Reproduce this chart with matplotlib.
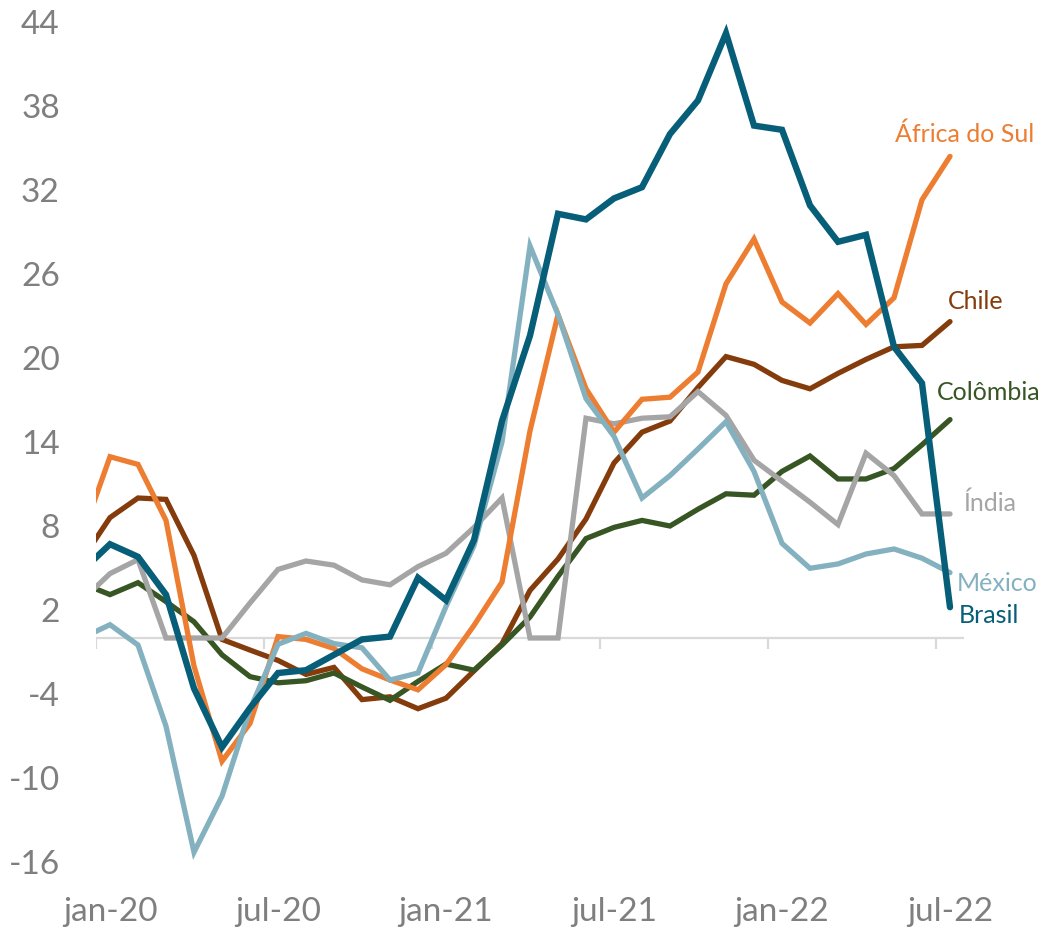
import numpy as np
import pandas as pd
import matplotlib
matplotlib.use("Agg")
import matplotlib.pyplot as plt

plt.rcParams['font.family'] = ['Lato', 'DejaVu Sans']

# monthly series, dez-19 .. jul-22 (the first month sits just left of the axis and gets clipped)
months = pd.period_range('2019-12', '2022-07', freq='M')

brasil = [4.8, 6.7, 5.8, 3.1, -3.6, -7.8, -5.0, -2.5, -2.3, -1.2, -0.1, 0.1, 4.3,
          2.7, 7.0, 15.5, 21.6, 30.3, 29.9, 31.4, 32.2, 36.0, 38.4, 43.2, 36.6,
          36.3, 30.9, 28.3, 28.8, 20.8, 18.2, 2.2]
africa_sul = [7.3, 12.95, 12.4, 8.4, -2.0, -8.8, -6.1, 0.1, -0.1, -0.75, -2.2, -3.0, -3.7,
              -1.9, 0.9, 4.0, 14.8, 23.1, 17.8, 14.7, 17.05, 17.2, 19.0, 25.3, 28.5,
              24.0, 22.5, 24.6, 22.4, 24.3, 31.3, 34.4]
chile = [5.6, 8.6, 10.0, 9.9, 5.9, -0.1, -0.86, -1.6, -2.6, -2.1, -4.4, -4.2, -5.05,
         -4.3, -2.35, -0.4, 3.4, 5.64, 8.5, 12.5, 14.7, 15.5, 17.9, 20.1, 19.55,
         18.4, 17.8, 18.9, 19.9, 20.8, 20.9, 22.6]
colombia = [3.9, 3.1, 3.95, 2.6, 1.16, -1.2, -2.76, -3.2, -3.05, -2.5, -3.5, -4.45, -3.1,
            -1.86, -2.3, -0.5, 1.5, 4.4, 7.1, 7.9, 8.4, 8.0, 9.2, 10.3, 10.2,
            11.9, 13.0, 11.36, 11.36, 12.1, 13.8, 15.6]
india = [2.7, 4.6, 5.6, 0.0, 0.0, 0.0, 2.5, 4.9, 5.5, 5.2, 4.15, 3.8, 5.1,
         6.05, 7.9, 10.0, 0.0, 0.0, 15.7, 15.3, 15.7, 15.8, 17.6, 15.9, 12.7,
         11.2, 9.7, 8.1, 13.2, 11.6, 8.86, 8.86]
mexico = [0.0, 0.95, -0.5, -6.3, -15.3, -11.3, -5.1, -0.45, 0.33, -0.4, -0.7, -3.0, -2.5,
          2.25, 6.6, 14.0, 28.0, 23.1, 17.1, 14.4, 10.0, 11.6, 13.5, 15.45, 11.9,
          6.76, 4.98, 5.29, 6.0, 6.36, 5.7, 4.67]

xtick_labels = ['jan-20', 'jul-20', 'jan-21', 'jul-21', 'jan-22', 'jul-22']
yticks = [44, 38, 32, 26, 20, 14, 8, 2, -4, -10, -16]

# name, values, colour, width, label offset (px) from last point
series = [
    ('Chile', chile, '#843C0C', 3.8, (-2, 20)),
    ('Colômbia', colombia, '#375623', 3.8, (-13, 27)),
    ('Índia', india, '#A5A5A5', 3.8, (13, 11)),
    ('África do Sul', africa_sul, '#ED7D31', 3.8, (-55, 22)),
    ('México', mexico, '#84B1BF', 3.8, (7, -11)),
    ('Brasil', brasil, '#075E78', 4.6, (9, -8)),
]


def main():
    fig = plt.figure(figsize=(10.51, 9.30), dpi=100)
    ax = fig.add_axes([96 / 1051, 68 / 930, 868 / 1051, 840 / 930])

    x = np.arange(len(months)) - 1  # jan-20 -> 0

    # zero line with a tick every six months
    ax.axhline(0, color='#D9D9D9', lw=1.6, zorder=1)
    bounds = np.arange(-0.5, 30, 6)
    ax.vlines(bounds, -0.8, 0, color='#D9D9D9', lw=1.6, zorder=1)

    for name, vals, color, lw, off in series:
        ax.plot(x, vals, color=color, lw=lw, solid_joinstyle='miter',
                solid_capstyle='round', zorder=3)
        ax.annotate(name, (x[-1], vals[-1]), xytext=off, textcoords='offset pixels',
                    color=color, fontsize=18, ha='left', va='center',
                    annotation_clip=False)

    ax.set_xlim(-0.5, 30.5)
    ax.set_ylim(-16, 44)
    ax.set_xticks(np.arange(0, 31, 6))
    ax.set_xticklabels(xtick_labels)
    ax.set_yticks(yticks)
    ax.set_yticklabels([str(v) for v in yticks])
    ax.tick_params(axis='both', length=0, labelsize=24, labelcolor='#7F7F7F')
    ax.tick_params(axis='y', pad=26)
    ax.tick_params(axis='x', pad=25)
    for s in ax.spines.values():
        s.set_visible(False)

    fig.savefig('out.png', dpi=100)


if __name__ == "__main__":
    main()
